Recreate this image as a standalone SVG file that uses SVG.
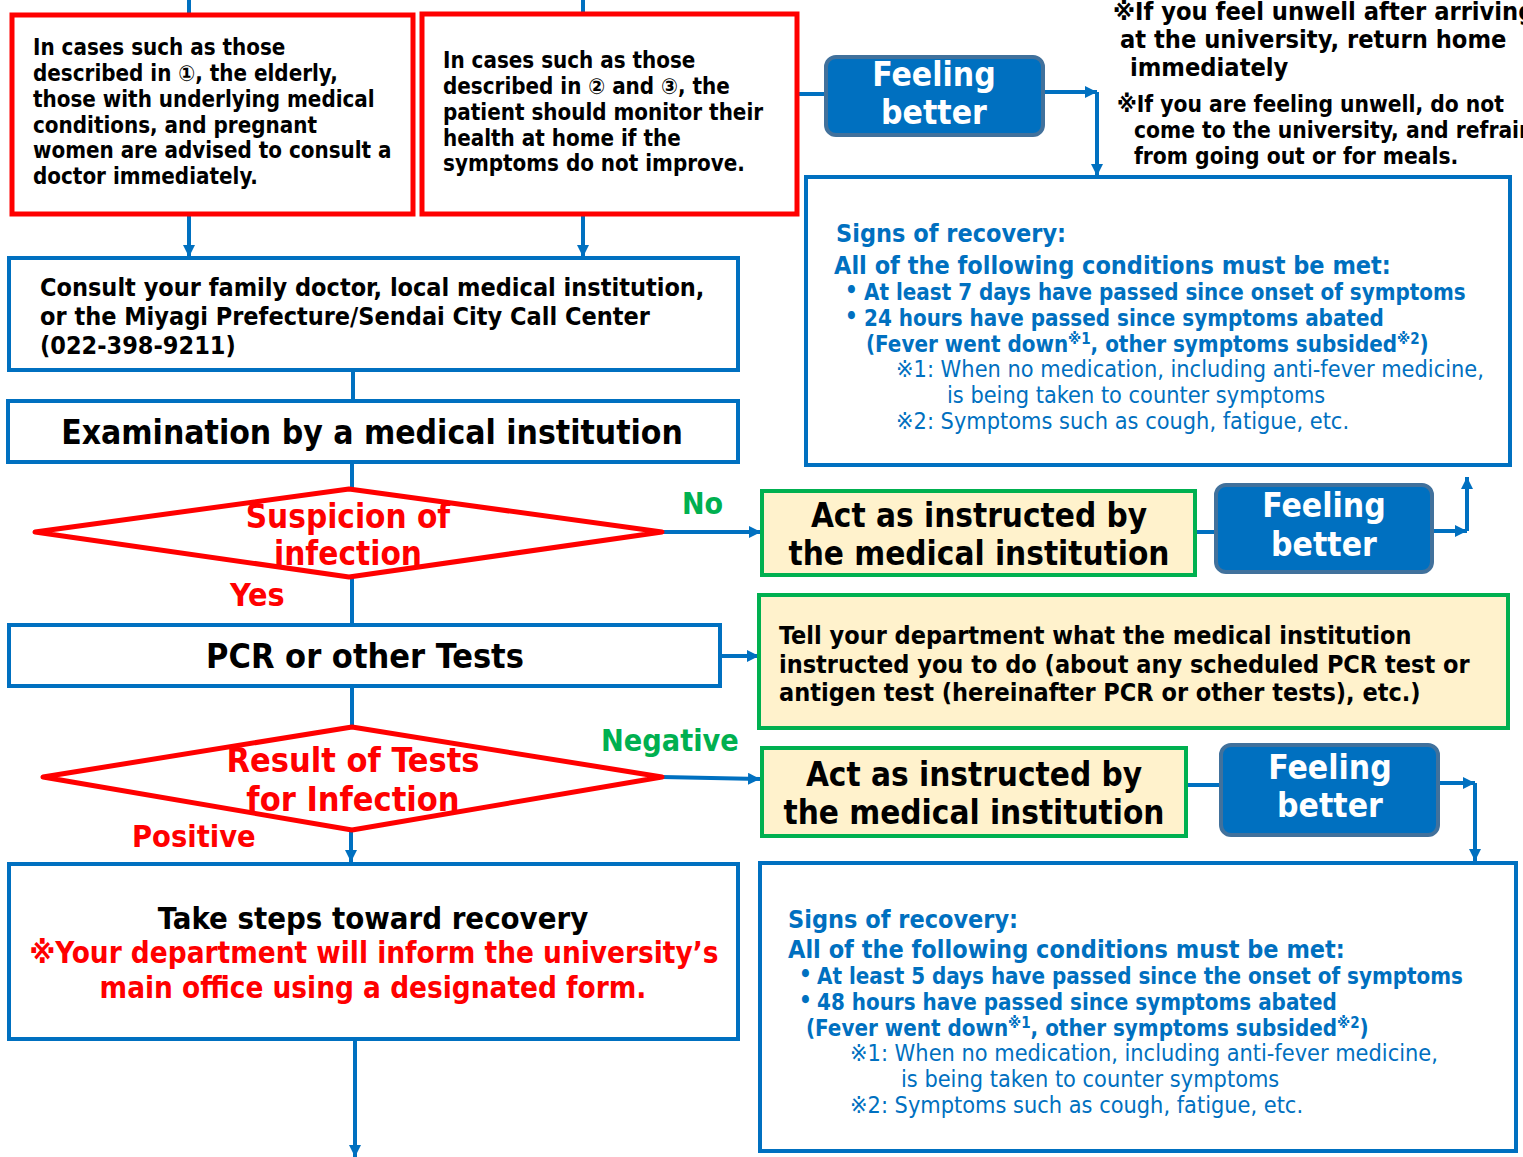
<svg xmlns="http://www.w3.org/2000/svg" width="1523" height="1157" viewBox="0 0 1523 1157">
<defs>
<marker id="ah" markerUnits="userSpaceOnUse" markerWidth="14" markerHeight="14" refX="12" refY="6" orient="auto"><path d="M0,0 L12,6 L0,12 z" fill="#0070C0"/></marker>
<style>
text{font-family:"DejaVu Sans Condensed","DejaVu Sans","Liberation Sans",sans-serif;font-weight:bold}
.box{fill:#fff;stroke:#0070C0;stroke-width:4}
.red{fill:#fff;stroke:#FF0000;stroke-width:5}
.grn{fill:#FFF2CC;stroke:#00B050;stroke-width:4}
.fb{fill:#0070C0;stroke:#41719C;stroke-width:4}
.dia{fill:none;stroke:#FF0000;stroke-width:5;stroke-linejoin:round}
.c line{stroke:#0070C0;stroke-width:4}
.a{marker-end:url(#ah)}
.k{fill:#000}
.w{fill:#fff;font-size:33.4px;text-anchor:middle}
.b{fill:#0070C0}
.n{font-weight:normal}
.rt{fill:#FF0000}
.gt{fill:#00B050}
.m{text-anchor:middle}
.sup{font-size:15px}
</style>
</defs>
<rect width="1523" height="1157" fill="#fff"/>
<g class="c">
<line x1="189" y1="0" x2="189" y2="15"/>
<line x1="583" y1="0" x2="583" y2="14"/>
<line class="a" x1="189" y1="214" x2="189" y2="257"/>
<line class="a" x1="583" y1="214" x2="583" y2="257"/>
<line x1="797" y1="94" x2="826" y2="94"/>
<line class="a" x1="1043" y1="92" x2="1097" y2="92"/>
<line class="a" x1="1097" y1="92" x2="1097" y2="176"/>
<line x1="353" y1="370" x2="353" y2="401"/>
<line x1="352" y1="462" x2="352" y2="489"/>
<line class="a" x1="662" y1="532" x2="761" y2="532"/>
<line x1="352" y1="577" x2="352" y2="625"/>
<line x1="1195" y1="532" x2="1216" y2="532"/>
<line class="a" x1="1432" y1="531" x2="1467" y2="531"/>
<line class="a" x1="1467" y1="531" x2="1467" y2="477"/>
<line class="a" x1="720" y1="656" x2="759" y2="656"/>
<line x1="352" y1="686" x2="352" y2="727"/>
<line class="a" x1="662" y1="777" x2="760" y2="779"/>
<line class="a" x1="351" y1="830" x2="351" y2="862"/>
<line x1="1186" y1="785" x2="1221" y2="785"/>
<line class="a" x1="1438" y1="783" x2="1475" y2="783"/>
<line class="a" x1="1475" y1="783" x2="1475" y2="861"/>
<line class="a" x1="355" y1="1039" x2="355" y2="1157"/>
</g>
<g id="case1">
<rect class="red" x="12" y="15" width="401" height="199"/>
<text class="k" font-size="22.2">
<tspan x="33" y="55">In cases such as those</tspan>
<tspan x="33" y="81">described in ①, the elderly,</tspan>
<tspan x="33" y="107">those with underlying medical</tspan>
<tspan x="33" y="133">conditions, and pregnant</tspan>
<tspan x="33" y="158">women are advised to consult a</tspan>
<tspan x="33" y="184">doctor immediately.</tspan>
</text>
</g>
<g id="case2">
<rect class="red" x="422" y="14" width="375" height="200"/>
<text class="k" font-size="22.2">
<tspan x="443" y="68">In cases such as those</tspan>
<tspan x="443" y="94">described in ② and ③, the</tspan>
<tspan x="443" y="120">patient should monitor their</tspan>
<tspan x="443" y="146">health at home if the</tspan>
<tspan x="443" y="171">symptoms do not improve.</tspan>
</text>
</g>
<g id="fb1">
<rect class="fb" x="826" y="57" width="217" height="78" rx="10"/>
<text class="w"><tspan x="934" y="86">Feeling</tspan><tspan x="934" y="124">better</tspan></text>
</g>
<g id="note">
<text class="k" font-size="25.2">
<tspan x="1113" y="20">※If you feel unwell after arriving</tspan>
<tspan x="1120" y="48">at the university, return home</tspan>
<tspan x="1130" y="76">immediately</tspan>
<tspan x="1117" y="112" font-size="22.6">※If you are feeling unwell, do not</tspan>
<tspan x="1134" y="138" font-size="22.6">come to the university, and refrain</tspan>
<tspan x="1134" y="164" font-size="22.6">from going out or for meals.</tspan>
</text>
</g>
<g id="signs1">
<rect class="box" x="806" y="177" width="704" height="288"/>
<text class="b" font-size="25"><tspan x="836" y="242">Signs of recovery:</tspan><tspan x="834" y="274">All of the following conditions must be met:</tspan></text>
<text class="b" font-size="22.2">
<tspan x="845" y="298">•</tspan><tspan x="864" y="300">At least 7 days have passed since onset of symptoms</tspan>
<tspan x="845" y="324">•</tspan><tspan x="864" y="326">24 hours have passed since symptoms abated</tspan>
<tspan x="866" y="352">(Fever went down<tspan class="sup" dy="-8">※1</tspan><tspan dy="8">, other symptoms subsided</tspan><tspan class="sup" dy="-8">※2</tspan><tspan dy="8">)</tspan></tspan>
</text>
<text class="b n" font-size="23.3">
<tspan x="896" y="377">※1: When no medication, including anti-fever medicine,</tspan>
<tspan x="947" y="403">is being taken to counter symptoms</tspan>
<tspan x="896" y="429">※2: Symptoms such as cough, fatigue, etc.</tspan>
</text>
</g>
<g id="consult">
<rect class="box" x="9" y="258" width="729" height="112"/>
<text class="k" font-size="25"><tspan x="40" y="296">Consult your family doctor, local medical institution,</tspan><tspan x="40" y="325">or the Miyagi Prefecture/Sendai City Call Center</tspan><tspan x="40" y="354">(022-398-9211)</tspan></text>
</g>
<g id="exam">
<rect class="box" x="8" y="401" width="730" height="61"/>
<text class="k m" font-size="33.4" x="372" y="444">Examination by a medical institution</text>
</g>
<g id="d1">
<polygon class="dia" points="35,532 349,489 662,532 349,577"/>
<text class="rt m" font-size="33"><tspan x="348" y="528">Suspicion of</tspan><tspan x="348" y="565">infection</tspan></text>
</g>
<text class="gt" font-size="30" x="682" y="514">No</text>
<text class="rt" font-size="32" x="230" y="606">Yes</text>
<g id="act1">
<rect class="grn" x="762" y="491" width="433" height="84"/>
<text class="k m" font-size="33"><tspan x="979" y="527">Act as instructed by</tspan><tspan x="979" y="565">the medical institution</tspan></text>
</g>
<g id="fb2">
<rect class="fb" x="1216" y="485" width="216" height="87" rx="10"/>
<text class="w"><tspan x="1324" y="517">Feeling</tspan><tspan x="1324" y="556">better</tspan></text>
</g>
<g id="pcr">
<rect class="box" x="9" y="625" width="711" height="61"/>
<text class="k m" font-size="34" x="365" y="668">PCR or other Tests</text>
</g>
<g id="tell">
<rect class="grn" x="759" y="595" width="749" height="133"/>
<text class="k" font-size="25"><tspan x="779" y="644">Tell your department what the medical institution</tspan><tspan x="779" y="673">instructed you to do (about any scheduled PCR test or</tspan><tspan x="779" y="701">antigen test (hereinafter PCR or other tests), etc.)</tspan></text>
</g>
<g id="d2">
<polygon class="dia" points="43,777 352,727 662,777 352,830"/>
<text class="rt m" font-size="34"><tspan x="353" y="772">Result of Tests</tspan><tspan x="353" y="811">for Infection</tspan></text>
</g>
<text class="gt" font-size="30.3" x="601" y="751">Negative</text>
<text class="rt" font-size="30.5" x="132" y="847">Positive</text>
<g id="act2">
<rect class="grn" x="762" y="748" width="424" height="88"/>
<text class="k m" font-size="33"><tspan x="974" y="786">Act as instructed by</tspan><tspan x="974" y="824">the medical institution</tspan></text>
</g>
<g id="fb3">
<rect class="fb" x="1221" y="745" width="217" height="90" rx="10"/>
<text class="w"><tspan x="1330" y="779">Feeling</tspan><tspan x="1330" y="817">better</tspan></text>
</g>
<g id="steps">
<rect class="box" x="9" y="864" width="729" height="175"/>
<text class="k m" font-size="30.8" x="373" y="929">Take steps toward recovery</text>
<text class="rt m" font-size="29.4"><tspan x="374" y="963">※Your department will inform the university’s</tspan><tspan x="373" y="998">main office using a designated form.</tspan></text>
</g>
<g id="signs2">
<rect class="box" x="760" y="863" width="756" height="288"/>
<text class="b" font-size="25"><tspan x="788" y="928">Signs of recovery:</tspan><tspan x="788" y="958">All of the following conditions must be met:</tspan></text>
<text class="b" font-size="22.2">
<tspan x="799" y="982">•</tspan><tspan x="817" y="984">At least 5 days have passed since the onset of symptoms</tspan>
<tspan x="799" y="1008">•</tspan><tspan x="817" y="1010">48 hours have passed since symptoms abated</tspan>
<tspan x="806" y="1036">(Fever went down<tspan class="sup" dy="-8">※1</tspan><tspan dy="8">, other symptoms subsided</tspan><tspan class="sup" dy="-8">※2</tspan><tspan dy="8">)</tspan></tspan>
</text>
<text class="b n" font-size="23.3">
<tspan x="850" y="1061">※1: When no medication, including anti-fever medicine,</tspan>
<tspan x="901" y="1087">is being taken to counter symptoms</tspan>
<tspan x="850" y="1113">※2: Symptoms such as cough, fatigue, etc.</tspan>
</text>
</g>
</svg>
